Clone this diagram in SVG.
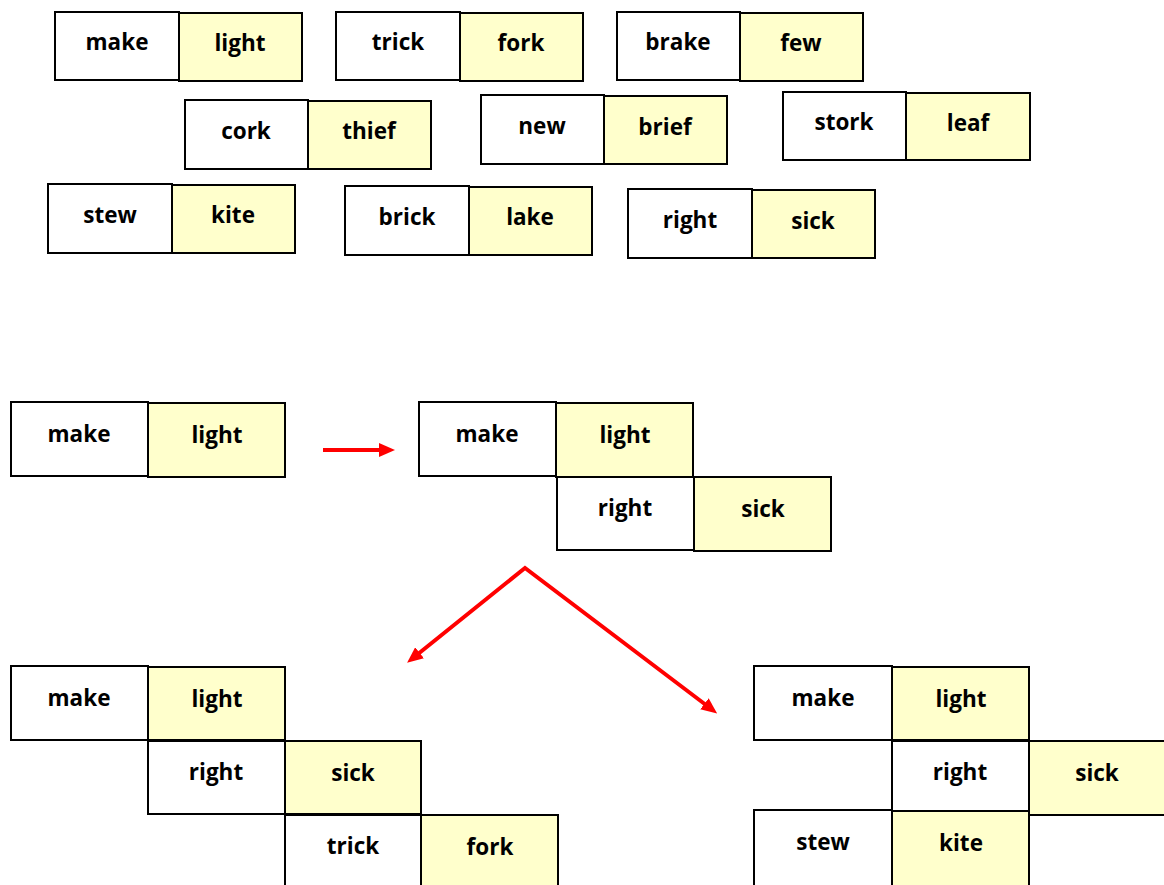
<svg xmlns="http://www.w3.org/2000/svg" width="1164" height="885" viewBox="0 0 1164 885">
<style>
.w{fill:#ffffff;stroke:#000;stroke-width:2}
.y{fill:#ffffcc;stroke:#000;stroke-width:2}
text{font-family:"Open Sans","Liberation Sans",sans-serif;font-weight:bold;font-size:22.5px;fill:#000;text-anchor:middle}
.arr{fill:none;stroke:#ff0000;stroke-width:4;stroke-linejoin:miter}
</style>
<defs>
<marker id="ah" markerUnits="userSpaceOnUse" markerWidth="16" markerHeight="14" refX="2" refY="7" orient="auto-start-reverse">
<path d="M0,0 L16,7 L0,14 z" fill="#ff0000"/>
</marker>
</defs>
<rect width="1164" height="885" fill="#fff"/>
<g id="top-cards">
<g id="c1"><rect class="w" x="55" y="12" width="124" height="68"/><rect class="y" x="179" y="13" width="123" height="68"/><text x="117" y="50">make</text><text x="240" y="51">light</text></g>
<g id="c2"><rect class="w" x="336" y="12" width="124" height="68"/><rect class="y" x="460" y="13" width="123" height="68"/><text x="398" y="50">trick</text><text x="521" y="51">fork</text></g>
<g id="c3"><rect class="w" x="617" y="12" width="123" height="68"/><rect class="y" x="740" y="13" width="123" height="68"/><text x="678" y="50">brake</text><text x="801" y="51">few</text></g>
<g id="c4"><rect class="w" x="185" y="100" width="123" height="69"/><rect class="y" x="308" y="101" width="123" height="68"/><text x="246" y="139">cork</text><text x="369" y="139">thief</text></g>
<g id="c5"><rect class="w" x="481" y="95" width="123" height="69"/><rect class="y" x="604" y="96" width="123" height="68"/><text x="542" y="134">new</text><text x="665" y="135">brief</text></g>
<g id="c6"><rect class="w" x="783" y="92" width="123" height="68"/><rect class="y" x="906" y="93" width="124" height="67"/><text x="844" y="130">stork</text><text x="968" y="131">leaf</text></g>
<g id="c7"><rect class="w" x="48" y="184" width="124" height="69"/><rect class="y" x="172" y="185" width="123" height="68"/><text x="110" y="223">stew</text><text x="233" y="223">kite</text></g>
<g id="c8"><rect class="w" x="345" y="186" width="124" height="69"/><rect class="y" x="469" y="187" width="123" height="68"/><text x="407" y="225">brick</text><text x="530" y="225">lake</text></g>
<g id="c9"><rect class="w" x="628" y="189" width="124" height="69"/><rect class="y" x="752" y="190" width="123" height="68"/><text x="690" y="228">right</text><text x="813" y="229">sick</text></g>
</g>
<g id="step1">
<rect class="w" x="11" y="402" width="137" height="74"/><rect class="y" x="148" y="403" width="137" height="74"/><text x="79" y="442">make</text><text x="217" y="443">light</text>
</g>
<g id="step2">
<rect class="w" x="419" y="402" width="137" height="74"/><rect class="y" x="556" y="403" width="137" height="74"/><text x="487" y="442">make</text><text x="625" y="443">light</text>
<rect class="w" x="557" y="477" width="137" height="73"/><rect class="y" x="694" y="477" width="137" height="74"/><text x="625" y="516">right</text><text x="763" y="517">sick</text>
</g>
<g id="step3a">
<rect class="w" x="11" y="666" width="137" height="74"/><rect class="y" x="148" y="667" width="137" height="73"/><text x="79" y="706">make</text><text x="217" y="707">light</text>
<rect class="w" x="148" y="741" width="137" height="73"/><rect class="y" x="285" y="741" width="136" height="73"/><text x="216" y="780">right</text><text x="353" y="781">sick</text>
<rect class="w" x="285" y="815" width="136" height="75"/><rect class="y" x="421" y="815" width="137" height="75"/><text x="353" y="854">trick</text><text x="490" y="855">fork</text>
</g>
<g id="step3b">
<rect class="w" x="754" y="666" width="138" height="74"/><rect class="y" x="892" y="667" width="137" height="73"/><text x="823" y="706">make</text><text x="961" y="707">light</text>
<rect class="w" x="892" y="741" width="137" height="72"/><rect class="y" x="1029" y="741" width="140" height="74"/><text x="960" y="780">right</text><text x="1097" y="781">sick</text>
<rect class="w" x="754" y="810" width="138" height="80"/><rect class="y" x="892" y="811" width="137" height="79"/><text x="823" y="850">stew</text><text x="961" y="851">kite</text>
</g>
<g id="connectors">
<line class="arr" x1="323" y1="450" x2="381" y2="450" marker-end="url(#ah)"/>
<path class="arr" d="M418,654 L525,568 L706,705" marker-start="url(#ah)" marker-end="url(#ah)"/>
</g>
</svg>
